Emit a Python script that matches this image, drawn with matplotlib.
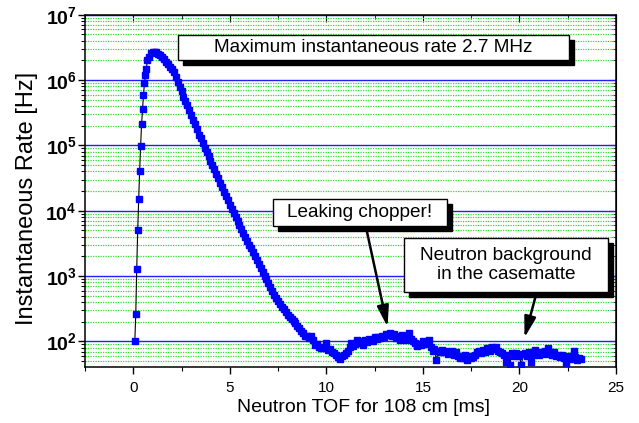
import numpy as np
import matplotlib
matplotlib.use("Agg")
import matplotlib.pyplot as plt
from matplotlib.patches import Rectangle
from matplotlib.ticker import MultipleLocator, LogLocator, FixedLocator, FixedFormatter, NullFormatter

plt.rcParams['font.family'] = ['Liberation Sans', 'DejaVu Sans']
plt.rcParams['mathtext.fontset'] = 'custom'
plt.rcParams['mathtext.rm'] = 'Liberation Sans'
plt.rcParams['mathtext.bf'] = 'Liberation Sans:bold'

# rising edge of the pulse (ms, Hz)
rise_tof = [0.08, 0.13, 0.18, 0.23, 0.28, 0.33, 0.38, 0.43, 0.48, 0.53, 0.58, 0.63, 0.68, 0.73]
rise_rate = [100, 265, 1300, 5100, 15400, 41000, 98000, 2.1e5, 3.6e5, 6.0e5, 8.9e5, 1.2e6, 1.5e6, 2.0e6]

# decay and background, 0.1 ms bins starting at 0.8 ms
bin_start = 0.8
bin_width = 0.1
decay_rate = [
    2.3e6, 2.6e6, 2.7e6, 2.7e6, 2.65e6, 2.55e6, 2.4e6, 2.25e6, 2.1e6, 1.9e6,
    1.75e6, 1.6e6, 1.48e6, 1.32e6, 1.12e6, 9.4e5, 7.9e5, 6.7e5, 5.6e5, 4.8e5,
    4.1e5, 3.45e5, 2.9e5, 2.45e5, 2.1e5, 1.78e5, 1.45e5, 1.28e5, 1.09e5, 9.3e4,
    7.9e4, 6.8e4, 5.8e4, 5.0e4, 4.3e4, 3.65e4, 3.15e4, 2.7e4, 2.3e4, 1.96e4,
    1.7e4, 1.45e4, 1.23e4, 1.05e4, 9.1e3, 7.9e3, 6.9e3, 6.0e3, 5.2e3, 4.6e3,
    4.0e3, 3.5e3, 3.0e3, 2.65e3, 2.3e3, 2.0e3, 1.77e3, 1.54e3, 1.34e3, 1.17e3,
    1020, 890, 780, 680, 590, 510, 460, 420, 370, 340,
    310, 280, 250, 235, 220, 205, 190, 175, 158, 142,
    135, 122, 120, 112, 120, 104, 89, 91, 83, 79,
    78, 83, 95, 74, 76, 69, 66, 63, 58, 54,
    60, 63, 66, 72, 83, 95, 85, 93, 106, 95,
    100, 89, 104, 98, 110, 106, 102, 115, 110, 119,
    112, 123, 117, 128, 125, 134, 120, 131, 113, 122,
    107, 126, 115, 105, 120, 134, 110, 100, 95, 85,
    93, 89, 100, 95, 91, 105, 83, 71, 76, 52,
    72, 69, 75, 68, 72, 65, 69, 71, 63, 69,
    60, 55, 58, 56, 62, 52, 59, 55, 58, 63,
    68, 71, 66, 74, 69, 78, 79, 72, 81, 76,
    83, 72, 68, 66, 62, 48, 63, 44, 66, 60,
    66, 63, 59, 43, 65, 66, 60, 69, 49, 63,
    74, 66, 62, 69, 66, 71, 65, 79, 69, 63,
    68, 60, 63, 58, 62, 55, 47, 59, 54, 60,
    71, 58, 52, 56, 54,
]

ytick_vals = [1e2, 1e3, 1e4, 1e5, 1e6, 1e7]
ytick_labels = [r'$\mathbf{10^{2}}$', r'$\mathbf{10^{3}}$', r'$\mathbf{10^{4}}$',
                r'$\mathbf{10^{5}}$', r'$\mathbf{10^{6}}$', r'$\mathbf{10^{7}}$']

decay_tof = bin_start + bin_width * np.arange(len(decay_rate))
tof = np.concatenate([rise_tof, decay_tof])
rate = np.concatenate([rise_rate, decay_rate])

fig = plt.figure(figsize=(6.39, 4.23), dpi=100)
ax = fig.add_axes([0.133, 0.133, 0.831, 0.832])

ax.plot(tof, rate, color='black', lw=0.8, marker='s', ms=4.2,
        mfc='#0000ff', mec='#0000ff', zorder=3)

ax.set_yscale('log')
ax.set_xlim(-2.5, 25)
ax.set_ylim(41, 1e7)

ax.xaxis.set_major_locator(MultipleLocator(5))
ax.xaxis.set_minor_locator(MultipleLocator(2.5))
ax.yaxis.set_major_locator(FixedLocator(ytick_vals))
ax.yaxis.set_major_formatter(FixedFormatter(ytick_labels))
ax.yaxis.set_minor_locator(LogLocator(base=10, subs=np.arange(2, 10)))
ax.yaxis.set_minor_formatter(NullFormatter())

ax.set_axisbelow(True)
ax.grid(True, which='major', axis='y', color='#2020ff', lw=1.0)
ax.grid(True, which='minor', axis='y', color='#30e030', lw=0.9, ls=(0, (1, 1)))

ax.tick_params(axis='y', which='major', direction='out', length=5, width=1, labelsize=14, pad=1)
ax.tick_params(axis='y', which='minor', direction='out', length=3, width=0.8)
ax.tick_params(axis='x', which='major', direction='out', length=5, width=1, labelsize=11, pad=5)
ax.tick_params(axis='x', which='minor', direction='out', length=3, width=0.8)
for s in ax.spines.values():
    s.set_linewidth(1.1)

# top / right ticks pointing inward
top = ax.secondary_xaxis('top')
top.xaxis.set_major_locator(MultipleLocator(5))
top.xaxis.set_minor_locator(MultipleLocator(2.5))
top.tick_params(which='both', direction='in', labeltop=False)
top.tick_params(which='major', length=5)
top.tick_params(which='minor', length=3)
right = ax.secondary_yaxis('right')
right.yaxis.set_major_locator(FixedLocator(ytick_vals))
right.yaxis.set_minor_locator(LogLocator(base=10, subs=np.arange(2, 10)))
right.yaxis.set_minor_formatter(NullFormatter())
right.tick_params(which='both', direction='in', labelright=False)
right.tick_params(which='major', length=5)
right.tick_params(which='minor', length=3)

ax.set_xlabel('Neutron TOF for 108 cm [ms]', fontsize=14)
ax.xaxis.set_label_coords(0.525, -0.092)
ax.set_ylabel('Instantaneous Rate [Hz]', fontsize=17)
ax.yaxis.set_label_coords(-0.088, 0.478)


def shadow_box(x0, y0, x1, y1, text):
    dx, dy = 0.0094, 0.0142
    ax.add_patch(Rectangle((x0 + dx, y0 - dy), x1 - x0, y1 - y0, transform=ax.transAxes,
                           facecolor='black', edgecolor='black', zorder=5, clip_on=False))
    ax.add_patch(Rectangle((x0, y0), x1 - x0, y1 - y0, transform=ax.transAxes,
                           facecolor='white', edgecolor='black', lw=1.0, zorder=6, clip_on=False))
    ax.text((x0 + x1) / 2, (y0 + y1) / 2, text, transform=ax.transAxes, ha='center',
            va='center', fontsize=13.7, zorder=7, linespacing=1.15)


shadow_box(0.175, 0.871, 0.912, 0.942, 'Maximum instantaneous rate 2.7 MHz')
shadow_box(0.354, 0.400, 0.682, 0.476, 'Leaking chopper!')
shadow_box(0.601, 0.212, 0.985, 0.366, 'Neutron background\nin the casematte')

arrow = dict(arrowstyle='-|>,head_length=0.9,head_width=0.25', color='black', lw=1.8,
             mutation_scale=14, shrinkA=0, shrinkB=0)
ax.annotate('', xy=(13.17, 167), xytext=(12.08, 5150), arrowprops=arrow, zorder=4)
ax.annotate('', xy=(20.26, 114), xytext=(20.83, 483), arrowprops=arrow, zorder=4)

fig.savefig('out.png', dpi=100)
